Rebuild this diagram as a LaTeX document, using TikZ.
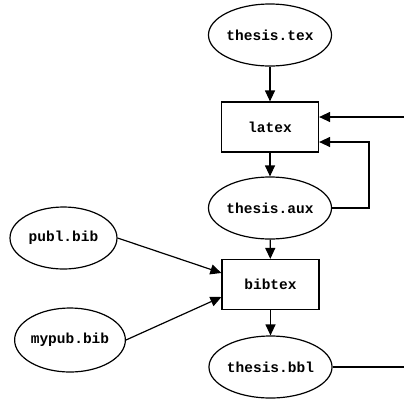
\documentclass[tikz,border=0pt]{standalone}
\usepackage{fontspec}
\setmonofont{Liberation Mono}
\usetikzlibrary{shapes.geometric,arrows.meta}
\begin{document}
\begin{tikzpicture}[x=1pt,y=-1pt,
  every node/.style={font=\ttfamily\bfseries\fontsize{14.5}{16}\selectfont, line width=1.2pt, draw, inner sep=0pt},
  file/.style={ellipse, minimum width=107pt, minimum height=62pt},
  prog/.style={rectangle, minimum width=97pt, minimum height=50pt},
  arr/.style={line width=1.2pt, -{Triangle[length=11pt,width=10pt]}},
  ln/.style={line width=1.2pt}]
\useasboundingbox (0,0) rectangle (404,400);
\node[file] (tex) at (270,35) {thesis.tex};
\node[prog] (latex) at (270,127) {latex};
\node[file] (aux) at (270,208) {thesis.aux};
\node[prog] (bibtex) at (270.5,284.5) {bibtex};
\node[file] (bbl) at (270.5,367) {thesis.bbl};
\node[file] (publ) at (63.5,238) {publ.bib};
\node[file, minimum height=64pt] (mypub) at (70,340) {mypub.bib};
\coordinate (fin) at (404,117);
\coordinate (loop) at (369,142);
\coordinate (bout) at (404,367);
\draw[arr] (tex) -- (latex);
\draw[arr] (latex) -- (aux);
\draw[arr] (aux) -- (bibtex);
\draw[arr] (bibtex) -- (bbl);
\draw[arr] (fin) -- (fin -| latex.east);
\draw[arr] (aux.east) -- (aux.east -| loop) -- (loop) -- (loop -| latex.east);
\draw[ln] (bbl.east) -- (bout);
\draw[arr] (publ.east) -- ([yshift=11.5pt]bibtex.west);
\draw[arr] (mypub.east) -- ([yshift=-12.5pt]bibtex.west);
\end{tikzpicture}
\end{document}
